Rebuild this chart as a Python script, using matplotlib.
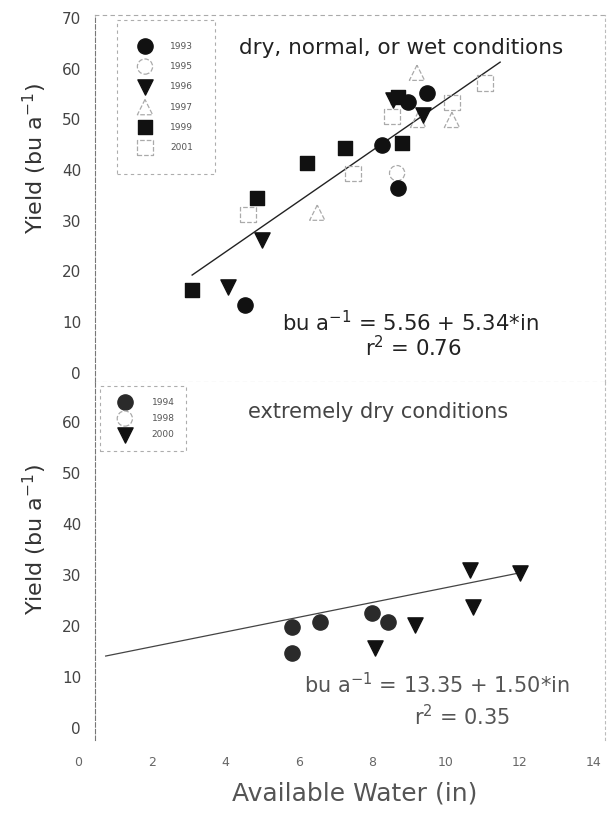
import matplotlib.pyplot as plt

plt.rcParams['font.family'] = ['DejaVu Sans']

# top panel: dry, normal or wet years (available water in, yield bu/a)
x93 = [4.54, 8.26, 8.70, 8.97, 9.48]
y93 = [13.4, 45.0, 36.5, 53.5, 55.2]
x95 = [8.67]
y95 = [39.4]
x96 = [4.08, 5.00, 8.56, 9.38]
y96 = [17.0, 26.2, 53.8, 50.9]
x97 = [6.50, 9.24, 10.16, 9.21]
y97 = [31.6, 49.9, 49.9, 59.2]
x99 = [3.10, 4.86, 6.22, 7.26, 8.80, 8.70]
y99 = [16.4, 34.5, 41.4, 44.4, 45.4, 54.4]
x01 = [4.62, 7.47, 8.53, 10.16, 11.06]
y01 = [31.2, 39.4, 50.5, 53.3, 57.2]
fit_top_x = [3.10, 11.47]
fit_top_y = [19.3, 61.3]

# bottom panel: extremely dry years
x94 = [5.82, 6.58, 7.99, 8.42, 5.82]
y94 = [19.8, 20.8, 22.5, 20.8, 14.7]
x98 = []
y98 = []
x00 = [10.65, 12.01, 10.73, 9.16, 8.07]
y00 = [31.0, 30.4, 23.7, 20.2, 15.7]
fit_bot_x = [0.75, 12.0]
fit_bot_y = [14.1, 30.4]

top_ticks = [0, 10, 20, 30, 40, 50, 60, 70]
bot_ticks = [0, 10, 20, 30, 40, 50, 60]
x_ticks = [0, 2, 4, 6, 8, 10, 12, 14]

W, H = 608, 815
fig = plt.figure(figsize=(W / 100, H / 100), dpi=100)
ax1 = fig.add_axes([95 / W, 1 - 382 / H, 510 / W, 367 / H])
ax2 = fig.add_axes([95 / W, 1 - 740 / H, 510 / W, 358 / H])

filled = dict(color='#111111', s=120, zorder=3)
hollow = dict(facecolors='none', edgecolors='#aaaaaa', linewidths=0.9,
              linestyle='--', s=120, zorder=2)

ax1.scatter(x93, y93, marker='o', label='1993', **filled)
ax1.scatter(x95, y95, marker='o', label='1995', **hollow)
ax1.scatter(x96, y96, marker='v', label='1996', **filled)
ax1.scatter(x97, y97, marker='^', label='1997', **hollow)
ax1.scatter(x99, y99, marker='s', label='1999', color='#111111', s=100, zorder=3)
ax1.scatter(x01, y01, marker='s', label='2001', **hollow)
ax1.plot(fit_top_x, fit_top_y, color='#222222', lw=1.0, zorder=1)

ax2.scatter(x94, y94, marker='o', label='1994', color='#2a2a2a', s=120, zorder=3)
ax2.scatter(x98, y98, marker='o', label='1998', **hollow)
ax2.scatter(x00, y00, marker='v', label='2000', **filled)
ax2.plot(fit_bot_x, fit_bot_y, color='#444444', lw=0.9, zorder=1)

ax1.set_ylim(-1.8, 70.6)
ax2.set_ylim(-2.35, 67.8)
for ax, ticks in [(ax1, top_ticks), (ax2, bot_ticks)]:
    ax.set_xlim(0.46, 14.32)
    ax.set_yticks(ticks)
    ax.set_xticks([])
    ax.tick_params(axis='y', length=0, pad=10, labelsize=11, labelcolor='#444444')
    ax.spines['left'].set_linestyle((0, (4, 2)))
    ax.spines['left'].set_color('#777777')
    ax.spines['right'].set_linestyle((0, (2, 3)))
    ax.spines['right'].set_color('#bbbbbb')
    ax.set_ylabel('Yield (bu a$^{-1}$)', fontsize=16, color='#333333')
ax1.spines['top'].set_linestyle((0, (3, 4)))
ax1.spines['top'].set_color('#aaaaaa')
ax1.spines['bottom'].set_linestyle((0, (3, 4)))
ax1.spines['bottom'].set_color('#aaaaaa')
ax2.spines['top'].set_visible(False)
ax2.spines['bottom'].set_visible(False)
ax1.yaxis.set_label_coords(-0.09, 0.61)
ax2.yaxis.set_label_coords(-0.09, 0.56)

# x tick labels sit left of the frame in the original, so place them by hand
for t in x_ticks:
    ax2.text(t, -0.0615, str(t), transform=ax2.get_xaxis_transform(),
             ha='center', va='center', fontsize=9, color='#666666', clip_on=False)
fig.text(355 / W, 1 - 793 / H, 'Available Water (in)', ha='center', va='center',
         fontsize=18, color='#555555')

ax1.text(0.6, 0.91, 'dry, normal, or wet conditions', transform=ax1.transAxes,
         ha='center', va='center', fontsize=15.5, color='#222222')
ax1.text(0.618, 0.163, 'bu a$^{-1}$ = 5.56 + 5.34*in', transform=ax1.transAxes,
         ha='center', va='center', fontsize=15.3, color='#222222')
ax1.text(0.625, 0.095, 'r$^2$ = 0.76', transform=ax1.transAxes,
         ha='center', va='center', fontsize=15.3, color='#222222')
ax2.text(0.555, 0.915, 'extremely dry conditions', transform=ax2.transAxes,
         ha='center', va='center', fontsize=15, color='#444444')
ax2.text(0.67, 0.154, 'bu a$^{-1}$ = 13.35 + 1.50*in', transform=ax2.transAxes,
         ha='center', va='center', fontsize=15, color='#555555')
ax2.text(0.72, 0.064, 'r$^2$ = 0.35', transform=ax2.transAxes,
         ha='center', va='center', fontsize=15, color='#555555')

leg_kw = dict(loc='upper left', bbox_transform=fig.transFigure, fontsize=6.5,
              frameon=True, fancybox=False, borderaxespad=0, labelcolor='#555555')
leg1 = ax1.legend(bbox_to_anchor=(117 / W, 1 - 20 / H), borderpad=2.4,
                  handlelength=1.4, handletextpad=2.1, labelspacing=1.25, **leg_kw)
leg2 = ax2.legend(bbox_to_anchor=(100 / W, 1 - 386 / H), borderpad=1.3,
                  handlelength=2.9, handletextpad=1.5, labelspacing=0.8, **leg_kw)
for leg in (leg1, leg2):
    frame = leg.get_frame()
    frame.set_edgecolor('#999999')
    frame.set_linestyle((0, (3, 3)))
    frame.set_linewidth(0.8)
    frame.set_facecolor('none')

fig.savefig('out.png', dpi=100)
